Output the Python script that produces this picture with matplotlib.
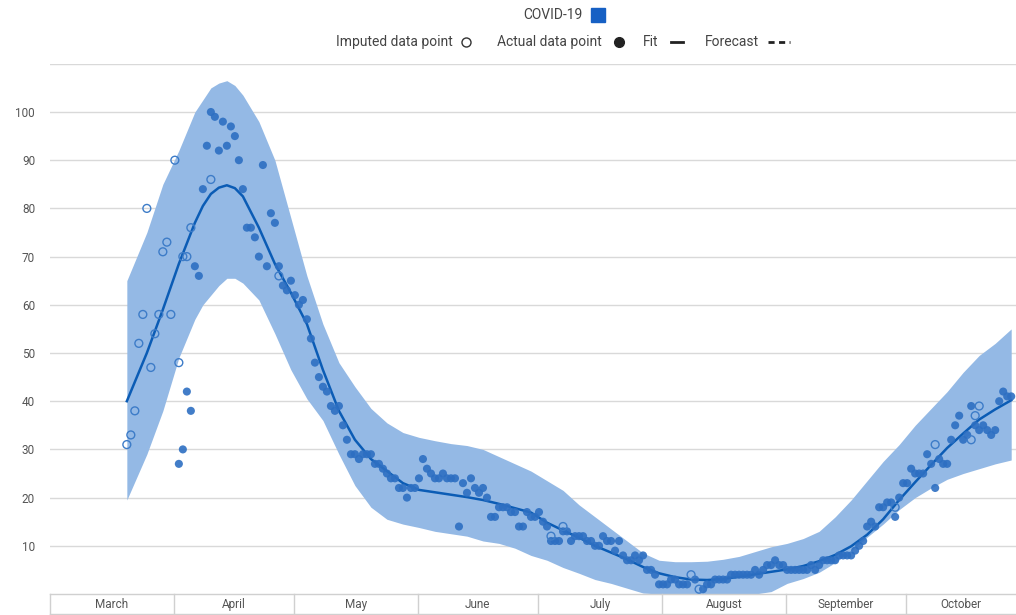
import numpy as np
import matplotlib
matplotlib.use("Agg")
import matplotlib.pyplot as plt
from matplotlib.transforms import blended_transform_factory

plt.rcParams['font.family'] = ['Roboto', 'DejaVu Sans']

# x values are days counted from 1 March
months = ['March', 'April', 'May', 'June', 'July', 'August', 'September', 'October']
month_starts = [0, 31, 61, 92, 122, 153, 184, 214]

imputed_days = [19, 20, 21, 22, 23, 24, 25, 26, 27, 28, 29, 30, 31, 32, 33, 34, 35, 40,
                57, 125, 128, 160, 162, 211, 221, 230, 231, 232]
imputed_vals = [31, 33, 38, 52, 58, 80, 47, 54, 58, 71, 73, 58, 90, 48, 70, 70, 76, 86,
                66, 12, 14, 4, 1, 18, 31, 32, 37, 39]

actual_start = 32
actual_vals = [
    27, 30, 42, 38, 68, 66, 84, 93, 100, 99,
    92, 98, 93, 97, 95, 90, 84, 76, 76, 74,
    70, 89, 68, 79, 77, 68, 64, 63, 65, 62,
    60, 61, 57, 53, 48, 45, 43, 42, 39, 38,
    39, 35, 32, 29, 29, 28, 29, 29, 29, 27,
    27, 26, 25, 24, 24, 22, 22, 20, 22, 22,
    24, 28, 26, 25, 24, 24, 25, 24, 24, 24,
    14, 23, 21, 24, 22, 21, 22, 20, 16, 16,
    18, 18, 18, 17, 17, 14, 14, 17, 16, 16,
    17, 15, 14, 11, 11, 11, 13, 13, 11, 12,
    12, 12, 11, 11, 10, 10, 12, 11, 11, 9,
    11, 8, 7, 7, 8, 7, 8, 5, 5, 4,
    2, 2, 2, 3, 3, 2, 2, 2, np.nan, 3,
    np.nan, 1, 2, 2, 3, 3, 3, 3, 4, 4,
    4, 4, 4, 4, 5, 4, 5, 6, 6, 7,
    6, 6, 5, 5, 5, 5, 5, 5, 6, 5,
    6, 7, 7, 7, 7, 8, 8, 8, 8, 9,
    10, 11, 14, 15, 14, 18, 18, 19, 19, 16,
    20, 23, 23, 26, 25, 25, 25, 29, 27, 22,
    28, 27, 27, 32, 35, 37, 32, 33, 39, 35,
    34, 35, 34, 33, 34, 40, 42, 41, 41,
]

fit_days = [19, 24, 28, 32, 36, 38, 40, 42, 44, 46, 48, 52, 56, 60, 64, 68, 72, 76, 80,
            84, 88, 92, 96, 100, 104, 108, 112, 116, 120, 124, 128, 132, 136, 140, 144,
            148, 152, 156, 160, 164, 168, 172, 176, 180, 184, 188, 192, 196, 200, 204,
            208, 212, 216, 220, 224, 228, 232, 236, 240]
fit_vals = [40, 50, 59, 68.5, 77, 80.5, 83, 84.3, 84.8, 84.2, 82.5, 76, 68.5, 62.5, 56,
            46.5, 38, 32, 28, 25.5, 23, 21.6, 21.1, 20.6, 20.1, 19.5, 18.7, 17.8, 16.9,
            14.8, 13.2, 11.7, 10, 8.6, 7.2, 5.6, 4.3, 3.5, 3, 2.9, 3.1, 3.6, 4.1, 4.6,
            5.1, 5.8, 6.8, 8.1, 9.9, 12.3, 15.5, 19.5, 23.2, 26.8, 30.3, 33.3, 36.2,
            38.3, 40.2]
band_hi = [65, 75, 85, 92, 100, 102.5, 105, 106, 106.5, 105.5, 103.5, 98, 90, 78, 66,
           56, 48, 43, 38.5, 35.5, 33.5, 32.5, 31.8, 31.2, 30.8, 30, 28.5, 27, 25.5,
           23.5, 21.5, 18.5, 16, 13.5, 11, 8.5, 7, 6.7, 6.7, 6.8, 7.2, 7.8, 8.8, 9.8,
           10.5, 11.5, 13, 16, 19.5, 23.5, 27.5, 31, 35, 38.5, 42, 46, 49.5, 52, 55]
band_lo = [19.5, 29, 38, 49, 57, 60, 62, 64, 65.5, 65.5, 64.5, 61, 54, 46.5, 40.5, 36,
           29, 22.5, 18, 15.5, 14.5, 13.8, 13, 12.5, 12, 11, 10.5, 9.5, 8, 7, 5.5, 4.3,
           3, 2.2, 1.2, 0.2, 0, 0, 0, 0, 0, 0, 0, 0.5, 2.2, 3.2, 4.5, 6.5, 9, 11.8,
           14.5, 17.5, 20, 22, 23.8, 25, 26, 27, 27.8]

actual_days = actual_start + np.arange(len(actual_vals))

fig = plt.figure(figsize=(10.16, 6.15), dpi=100)
ax = fig.add_axes([49.6 / 1016, 21 / 615, 966.4 / 1016, 530.2 / 615])

ax.fill_between(fit_days, band_lo, band_hi, color='#94b9e5', lw=0, zorder=1)
ax.plot(fit_days, fit_vals, color='#0b5cb5', lw=1.8, zorder=3)
ax.scatter(actual_days, actual_vals, s=34, color='#2d6fc2', alpha=0.9,
           edgecolors='none', zorder=4)
ax.scatter(imputed_days, imputed_vals, s=32, facecolors='none',
           edgecolors='#3d7cc8', linewidths=1, zorder=4)

ax.set_xlim(-0.3, 241.2)
ax.set_ylim(0, 110)
yt = list(range(10, 111, 10))
ax.set_yticks(yt, labels=[str(v) if v <= 100 else '' for v in yt])
ax.yaxis.grid(True, color='#d9d9d9', lw=1)
ax.set_axisbelow(True)
ax.set_xticks([])
ax.tick_params(axis='y', length=0, pad=10.5, labelsize=8.5, labelcolor='#555555')
for s in ax.spines.values():
    s.set_visible(False)

# month band under the plot
tr = blended_transform_factory(ax.transData, ax.transAxes)
edges = [m - 0.3 for m in month_starts] + [241.2]
band_h = 0.038
line_kw = dict(color='#d0d0d0', lw=1, transform=tr, clip_on=False)
ax.plot([edges[0], edges[-1]], [0, 0], **line_kw)
ax.plot([edges[0], edges[-1]], [-band_h, -band_h], **line_kw)
for i, name in enumerate(months):
    ax.plot([edges[i], edges[i]], [0, -band_h], **line_kw)
    ax.text((edges[i] + edges[i + 1]) / 2, -band_h / 2, name, transform=tr,
            ha='center', va='center', fontsize=8.5, color='#555555')

# legend drawn in pixel coordinates
lg = fig.add_axes([0, 0, 1, 1])
lg.set_xlim(0, 1016)
lg.set_ylim(615, 0)
lg.axis('off')
txt = dict(fontsize=10, color='#444444', va='center')
lg.text(583, 15, 'COVID-19', ha='right', **txt)
lg.add_patch(plt.Rectangle((591, 8), 14, 14, color='#1660c4'))
lg.text(336, 42, 'Imputed data point', ha='left', **txt)
lg.plot([466], [42], 'o', mfc='none', mec='#333333', ms=6.5, mew=1)
lg.text(497, 42, 'Actual data point', ha='left', **txt)
lg.plot([619], [42], 'o', color='#222222', ms=7)
lg.text(643, 42, 'Fit', ha='left', **txt)
lg.plot([671, 683], [42, 42], color='#222222', lw=2)
lg.text(705, 42, 'Forecast', ha='left', **txt)
lg.plot([768, 790], [42, 42], color='#222222', lw=2, ls=(0, (2.2, 1.6)))

fig.savefig('out.png', dpi=100)
